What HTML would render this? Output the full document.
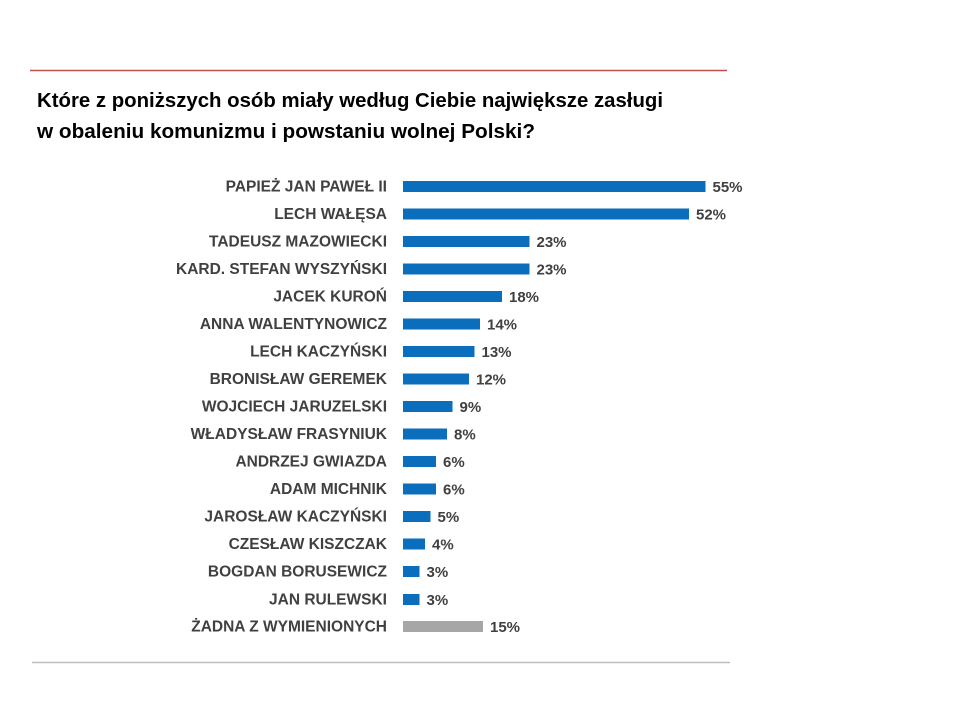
<!DOCTYPE html>
<html><head><meta charset="utf-8"><style>html,body{margin:0;padding:0;background:#fff}</style></head>
<body>
<svg width="960" height="720" xmlns="http://www.w3.org/2000/svg" font-family="Liberation Sans, sans-serif">
<rect width="960" height="720" fill="#fff"/>
<line x1="30" y1="70.5" x2="727" y2="70.5" stroke="#c0504d" stroke-width="1.5"/>
<line x1="32" y1="662.5" x2="730" y2="662.5" stroke="#bfbfbf" stroke-width="1.5"/>
<text x="37" y="107" font-size="20" font-weight="bold" fill="#000" textLength="626" lengthAdjust="spacingAndGlyphs">Które z poniższych osób miały według Ciebie największe zasługi</text>
<text x="37" y="138" font-size="20" font-weight="bold" fill="#000" textLength="498" lengthAdjust="spacingAndGlyphs">w obaleniu komunizmu i powstaniu wolnej Polski?</text>
<g font-size="15.5" font-weight="bold" fill="#404040" text-anchor="end">
<text x="387" y="191.5">PAPIEŻ JAN PAWEŁ II</text>
<text x="387" y="219">LECH WAŁĘSA</text>
<text x="387" y="246.5">TADEUSZ MAZOWIECKI</text>
<text x="387" y="274">KARD. STEFAN WYSZYŃSKI</text>
<text x="387" y="301.5">JACEK KUROŃ</text>
<text x="387" y="329">ANNA WALENTYNOWICZ</text>
<text x="387" y="356.5">LECH KACZYŃSKI</text>
<text x="387" y="384">BRONISŁAW GEREMEK</text>
<text x="387" y="411.5">WOJCIECH JARUZELSKI</text>
<text x="387" y="439">WŁADYSŁAW FRASYNIUK</text>
<text x="387" y="466.5">ANDRZEJ GWIAZDA</text>
<text x="387" y="494">ADAM MICHNIK</text>
<text x="387" y="521.5">JAROSŁAW KACZYŃSKI</text>
<text x="387" y="549">CZESŁAW KISZCZAK</text>
<text x="387" y="576.5">BOGDAN BORUSEWICZ</text>
<text x="387" y="604.5">JAN RULEWSKI</text>
<text x="387" y="631.5">ŻADNA Z WYMIENIONYCH</text>
</g>
<g fill="#0a6ebd">
<rect x="403" y="181" width="302.5" height="11"/>
<rect x="403" y="208.5" width="286" height="11"/>
<rect x="403" y="236" width="126.5" height="11"/>
<rect x="403" y="263.5" width="126.5" height="11"/>
<rect x="403" y="291" width="99" height="11"/>
<rect x="403" y="318.5" width="77" height="11"/>
<rect x="403" y="346" width="71.5" height="11"/>
<rect x="403" y="373.5" width="66" height="11"/>
<rect x="403" y="401" width="49.5" height="11"/>
<rect x="403" y="428.5" width="44" height="11"/>
<rect x="403" y="456" width="33" height="11"/>
<rect x="403" y="483.5" width="33" height="11"/>
<rect x="403" y="511" width="27.5" height="11"/>
<rect x="403" y="538.5" width="22" height="11"/>
<rect x="403" y="566" width="16.5" height="11"/>
<rect x="403" y="594" width="16.5" height="11"/>
</g>
<rect x="403" y="621" width="80" height="11" fill="#a6a6a6"/>
<g font-size="15" font-weight="bold" fill="#404040">
<text x="712.5" y="192">55%</text>
<text x="696" y="219.5">52%</text>
<text x="536.5" y="247">23%</text>
<text x="536.5" y="274.5">23%</text>
<text x="509" y="302">18%</text>
<text x="487" y="329.5">14%</text>
<text x="481.5" y="357">13%</text>
<text x="476" y="384.5">12%</text>
<text x="459.5" y="412">9%</text>
<text x="454" y="439.5">8%</text>
<text x="443" y="467">6%</text>
<text x="443" y="494.5">6%</text>
<text x="437.5" y="522">5%</text>
<text x="432" y="549.5">4%</text>
<text x="426.5" y="577">3%</text>
<text x="426.5" y="605">3%</text>
<text x="490" y="632">15%</text>
</g>
</svg>
</body></html>
